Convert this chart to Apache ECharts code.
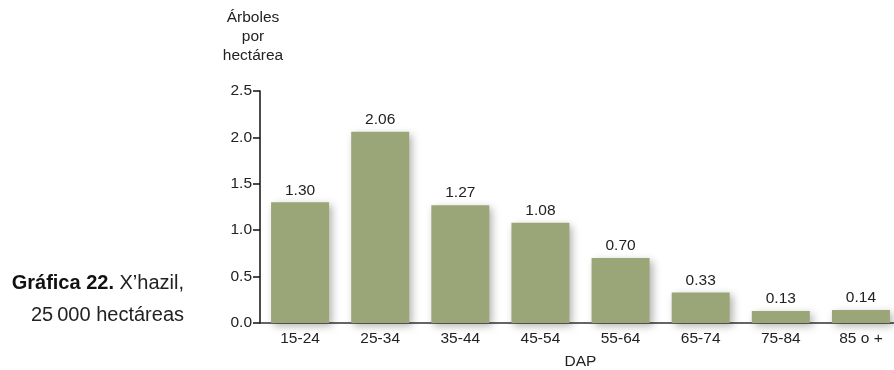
<!DOCTYPE html>
<html>
<head>
<meta charset="utf-8">
<script src="https://cdn.jsdelivr.net/npm/echarts@6/dist/echarts.min.js"></script>
<style>
  html, body { margin: 0; padding: 0; background: #fff; }
  #chart { width: 894px; height: 370px; }
</style>
</head>
<body>
<div id="chart"></div>
<script>
// DAP classes and trees per hectare
const categories = ["15-24", "25-34", "35-44", "45-54", "55-64", "65-74", "75-84", "85 o +"];
const arboles = [1.30, 2.06, 1.27, 1.08, 0.70, 0.33, 0.13, 0.14];
const yTicks = [0, 0.5, 1.0, 1.5, 2.0, 2.5];

const FONT = "Liberation Sans, Arial, sans-serif";
const TEXT = "#222";

const chartDom = document.getElementById("chart");
const myChart = echarts.init(chartDom);

let option = {
  animation: false,
  grid: {
    left: 260,
    width: 641,
    top: 91,
    bottom: 47,
    outerBoundsMode: "none",
    containLabel: false,
  },
  xAxis: {
    type: "category",
    data: categories,
    name: "DAP",
    nameLocation: "middle",
    nameGap: 31,
    nameTextStyle: { color: TEXT, fontSize: 15.5, fontFamily: FONT },
    axisLine: { lineStyle: { color: "#333", width: 1.5 } },
    axisTick: { show: false },
    axisLabel: { color: TEXT, fontSize: 15.5, fontFamily: FONT, margin: 8 },
  },
  yAxis: {
    type: "value",
    min: yTicks[0],
    max: yTicks[yTicks.length - 1],
    interval: 0.5,
    name: "Árboles\npor\nhectárea",
    nameLocation: "end",
    nameGap: 26,
    nameTextStyle: {
      color: TEXT,
      fontSize: 15.5,
      fontFamily: FONT,
      lineHeight: 19,
      align: "center",
      padding: [0, 14, 0, 0],
    },
    splitLine: { show: false },
    axisLine: { show: true, lineStyle: { color: "#111", width: 1.5 } },
    axisTick: { show: true, length: 7, lineStyle: { color: "#111", width: 1.5 } },
    axisLabel: {
      color: TEXT,
      fontSize: 15.5,
      fontFamily: FONT,
      margin: 8,
      formatter: (v) => v.toFixed(1),
    },
  },
  series: [
    {
      type: "bar",
      data: arboles,
      barWidth: 58,
      itemStyle: {
        color: "#9aa677",
        shadowColor: "rgba(0,0,0,0.3)",
        shadowBlur: 8,
        shadowOffsetX: 3,
        shadowOffsetY: 3,
      },
      label: {
        show: true,
        position: "top",
        distance: 4,
        color: TEXT,
        fontSize: 15.5,
        fontFamily: FONT,
        formatter: (p) => p.value.toFixed(2),
      },
    },
  ],
  graphic: [
    {
      type: "text",
      x: 184,
      y: 283,
      style: {
        text: "{b|Gráfica 22.} X’hazil,",
        align: "right",
        verticalAlign: "middle",
        fill: TEXT,
        font: "20px " + FONT,
        rich: {
          b: { fontWeight: "bold", fontSize: 20, fontFamily: FONT, fill: "#111" },
        },
      },
    },
    {
      type: "text",
      x: 184,
      y: 315,
      style: {
        text: "25\u2009000 hectáreas",
        align: "right",
        verticalAlign: "middle",
        fill: TEXT,
        font: "20px " + FONT,
      },
    },
  ],
};

try {
  myChart.setOption(option);
} catch (error) {
  console.error("Error setting chart options:", error);
}
</script>
</body>
</html>
